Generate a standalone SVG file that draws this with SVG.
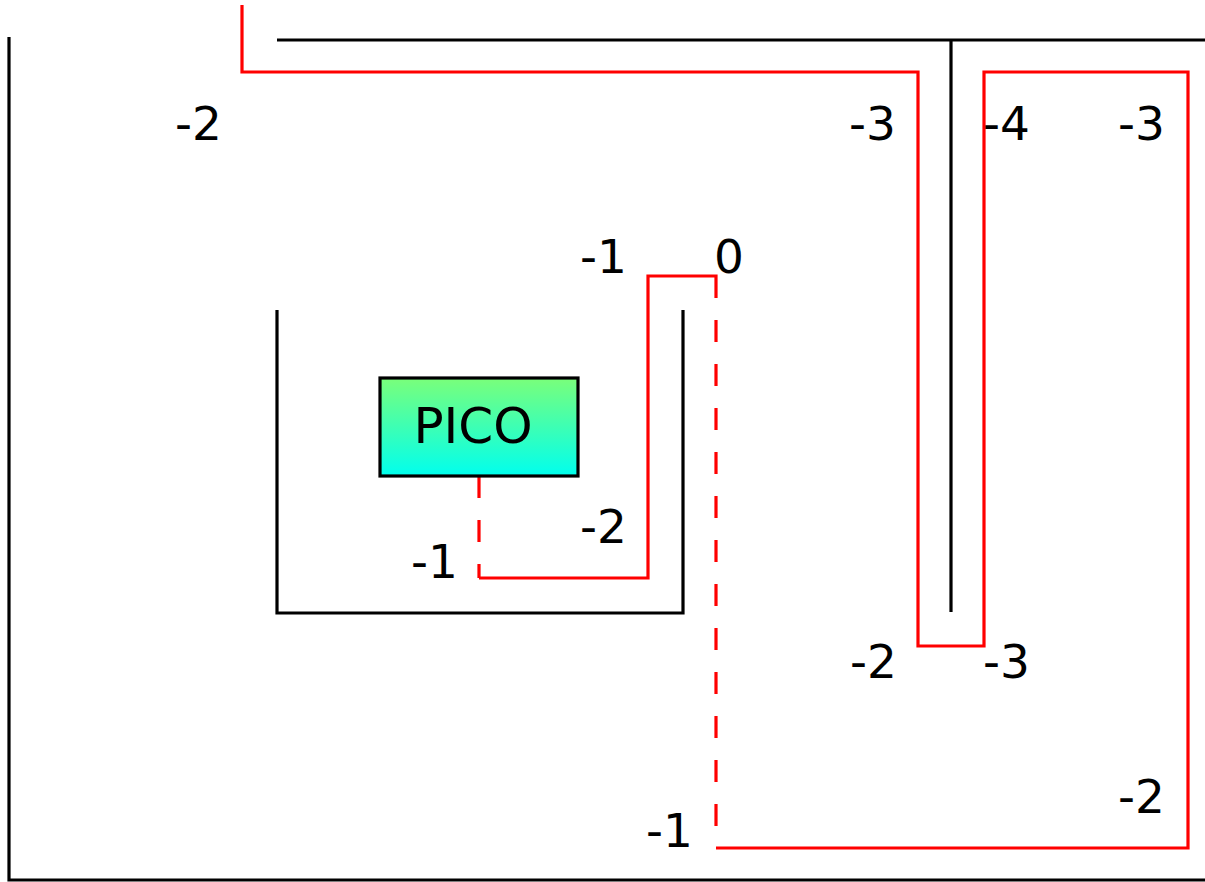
<svg xmlns="http://www.w3.org/2000/svg" width="1205" height="882" viewBox="0 0 1205 882">
  <style>
    .wall { fill: none; stroke: #000; stroke-width: 3.2; stroke-linecap: butt; }
    .path { fill: none; stroke: #ff0000; stroke-width: 3.2; }
    .dash { fill: none; stroke: #ff0000; stroke-width: 3.2; stroke-dasharray: 22,22; }
    .lbl { font-family: "DejaVu Sans", sans-serif; font-size: 47px; fill: #000; }
  </style>
  <defs>
    <linearGradient id="picoGrad" x1="0" y1="0" x2="0" y2="1">
      <stop offset="0" stop-color="#7aff7a"/>
      <stop offset="1" stop-color="#00ffee"/>
    </linearGradient>
  </defs>
  <rect width="1205" height="882" fill="#fff"/>
  <g id="walls">
    <path class="wall" d="M9,37 V880 H1205"/>
    <path class="wall" d="M277,40 H1205"/>
    <path class="wall" d="M951,40 V612"/>
    <path class="wall" d="M277,310 V613 H683 V310"/>
  </g>
  <g id="connectors">
    <path class="path" d="M242,5 V72 H918 V646 H984 V72 H1188 V848 H716"/>
    <path class="dash" d="M479,476 V578"/>
    <path class="path" d="M479,578 H648 V276 H716 V298"/>
    <path class="dash" d="M716,298 V848" stroke-dashoffset="-22"/>
  </g>
  <g id="pico">
    <rect x="380" y="378" width="198" height="98" fill="url(#picoGrad)" stroke="#000" stroke-width="3.2"/>
    <text x="473" y="443" text-anchor="middle" font-family="DejaVu Sans, sans-serif" font-size="50">PICO</text>
  </g>
  <g id="labels">
    <text class="lbl" x="175" y="140">-2</text>
    <text class="lbl" x="849" y="140">-3</text>
    <text class="lbl" x="983" y="140">-4</text>
    <text class="lbl" x="1118" y="140">-3</text>
    <text class="lbl" x="580" y="273">-1</text>
    <text class="lbl" x="714" y="273">0</text>
    <text class="lbl" x="580" y="543">-2</text>
    <text class="lbl" x="411" y="578">-1</text>
    <text class="lbl" x="850" y="678">-2</text>
    <text class="lbl" x="983" y="678">-3</text>
    <text class="lbl" x="1118" y="813">-2</text>
    <text class="lbl" x="646" y="847">-1</text>
  </g>
</svg>
